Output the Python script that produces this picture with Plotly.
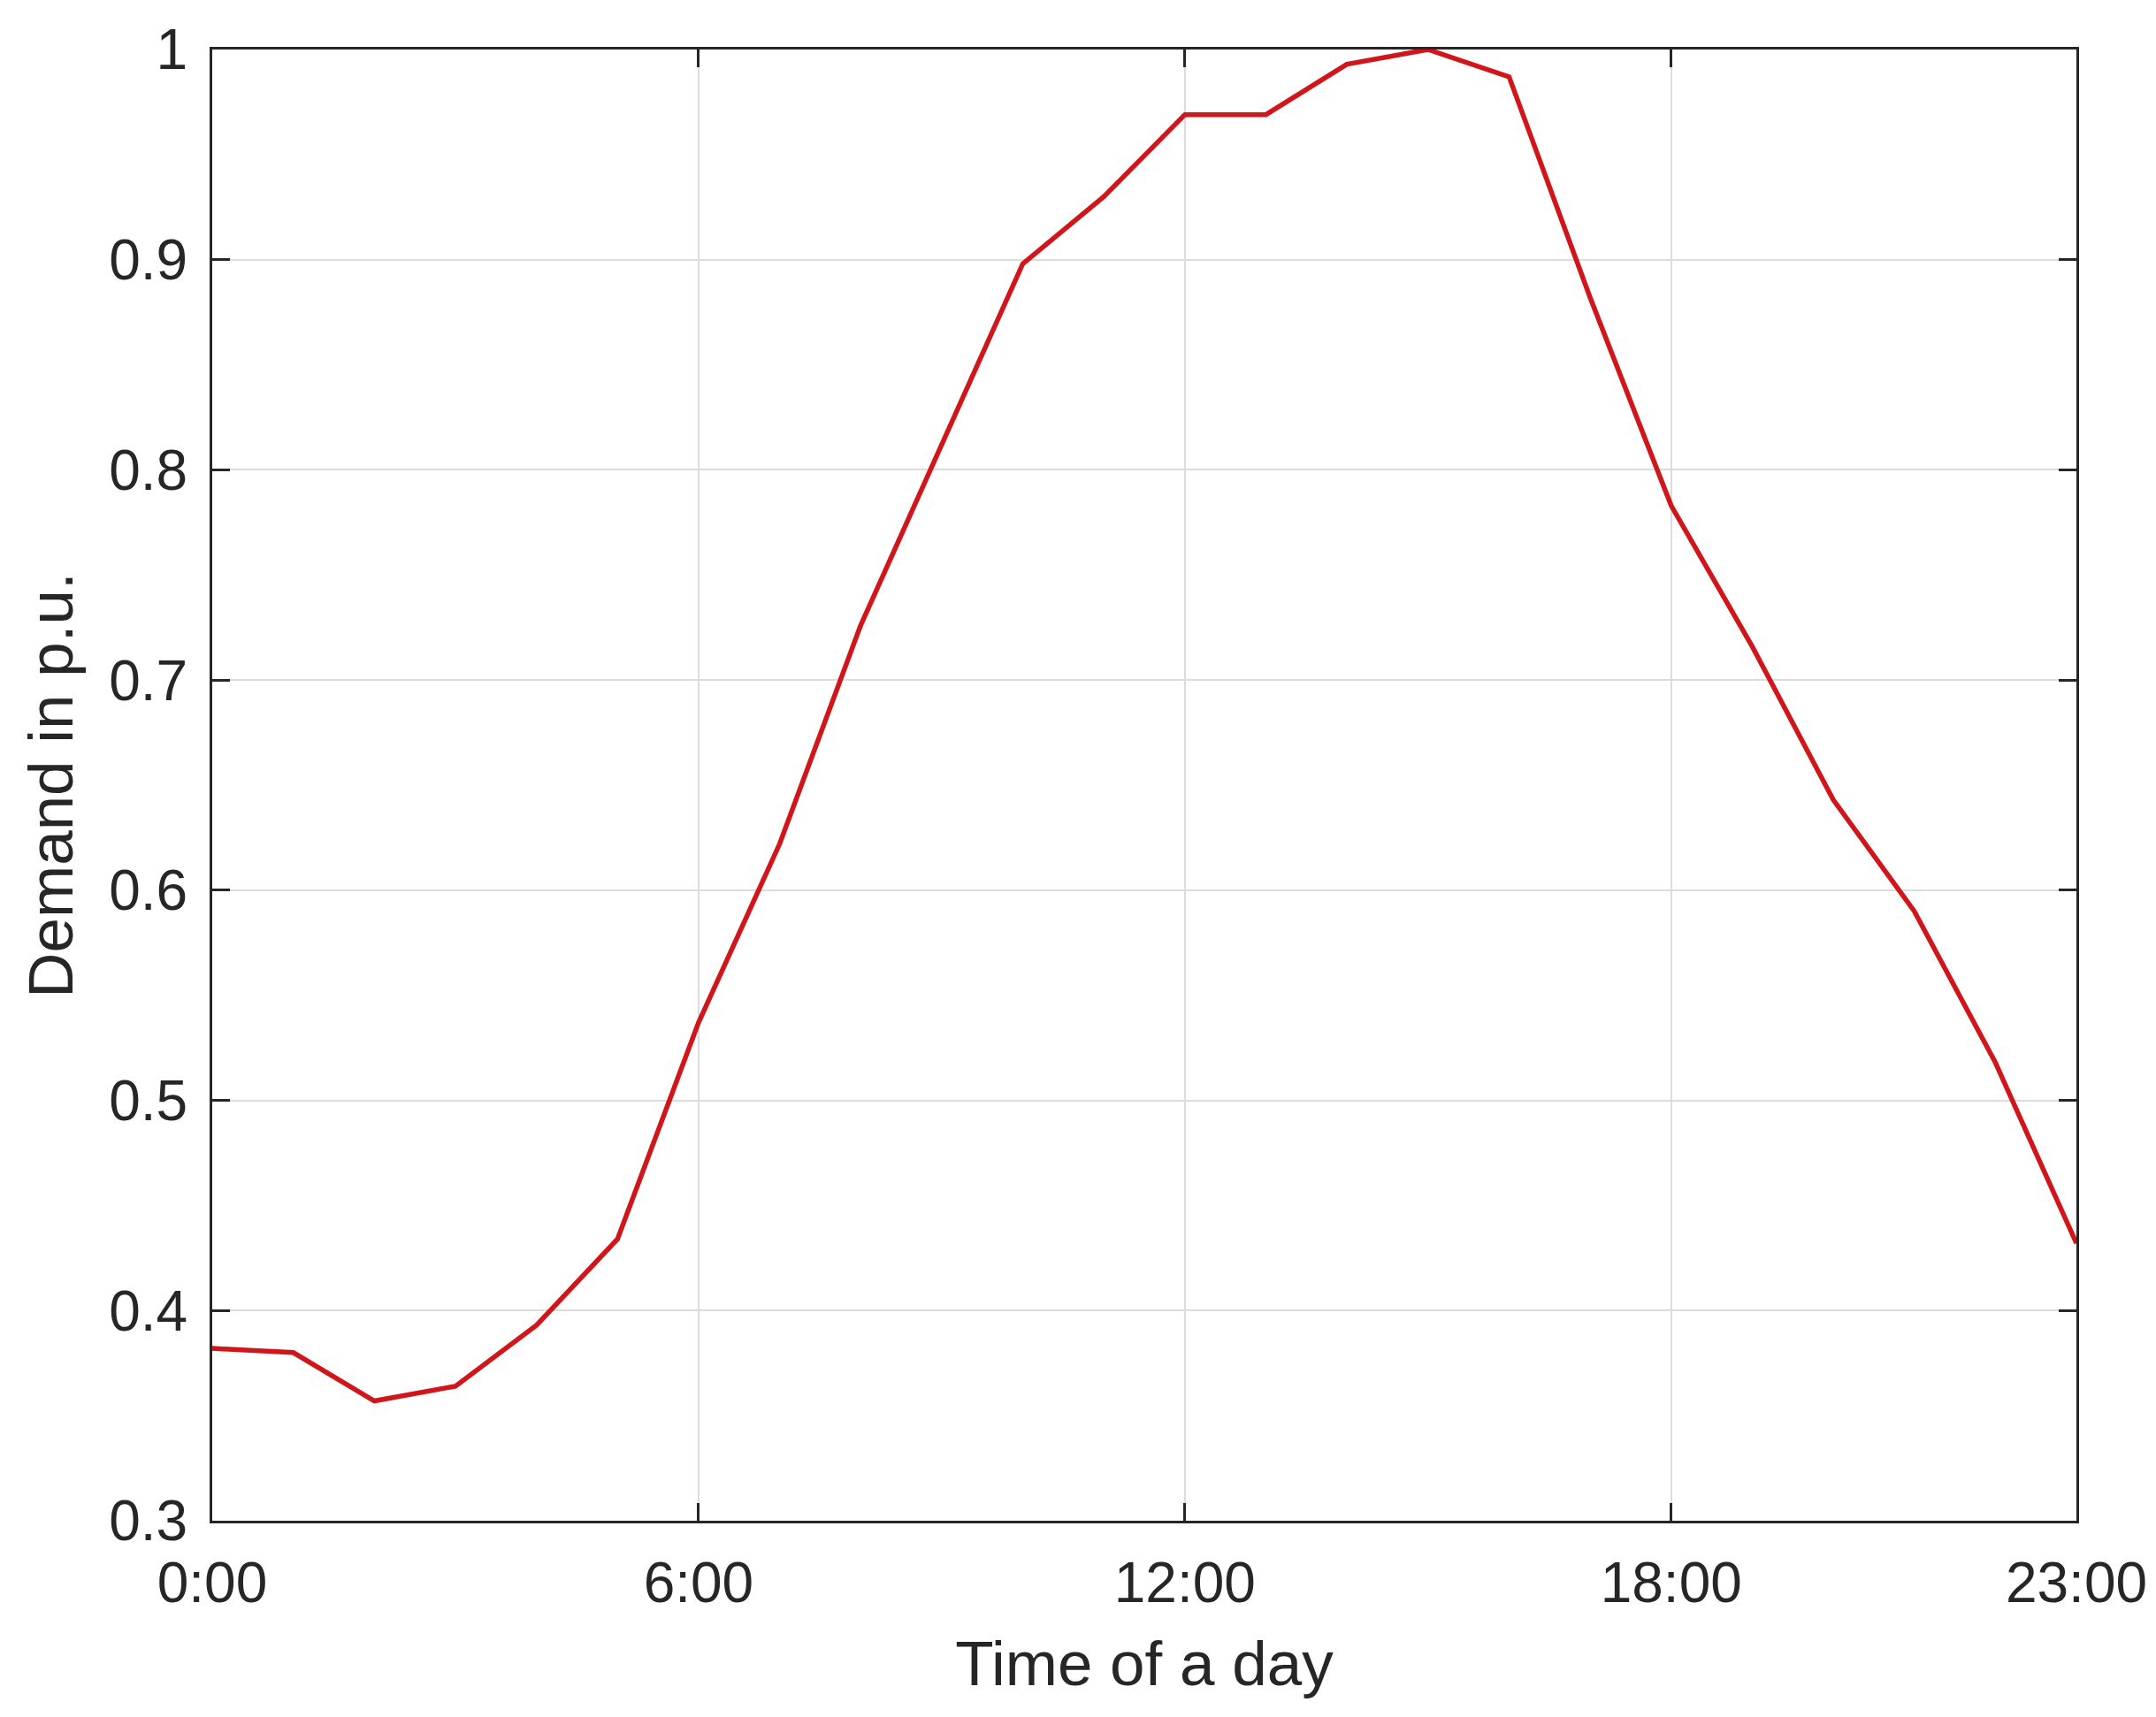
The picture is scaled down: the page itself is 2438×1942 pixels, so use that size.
import plotly.graph_objects as go

hours = list(range(24))
demand = [0.382, 0.380, 0.357, 0.364, 0.393, 0.434, 0.537, 0.622, 0.726, 0.812,
          0.898, 0.930, 0.969, 0.969, 0.993, 1.000, 0.987, 0.882, 0.783, 0.716,
          0.643, 0.590, 0.518, 0.432]

x_tick_vals = [0, 6, 12, 18, 23]
x_tick_text = ["0:00", "6:00", "12:00", "18:00", "23:00"]
y_tick_vals = [0.3, 0.4, 0.5, 0.6, 0.7, 0.8, 0.9, 1.0]
y_tick_text = ["0.3", "0.4", "0.5", "0.6", "0.7", "0.8", "0.9", "1"]

FONT = "Liberation Sans, Arial, sans-serif"

fig = go.Figure()
fig.add_trace(go.Scatter(x=hours, y=demand, mode="lines",
                         line=dict(color="#d0161a", width=5.5),
                         showlegend=False))

axis_common = dict(
    showline=True, linecolor="#262626", linewidth=3, mirror="allticks",
    ticks="inside", ticklen=20, tickwidth=2.5, tickcolor="#262626",
    showgrid=True, gridcolor="#dcdcdc", gridwidth=2,
    zeroline=False,
    tickfont=dict(family=FONT, size=64, color="#262626"),
)

fig.update_xaxes(range=[0, 23], tickvals=x_tick_vals, ticktext=x_tick_text,
                 title=dict(text="Time of a day", standoff=32,
                            font=dict(family=FONT, size=71, color="#262626")),
                 ticklabelstandoff=12,
                 **axis_common)
fig.update_yaxes(range=[0.3, 1.0], tickvals=y_tick_vals, ticktext=y_tick_text,
                 title=dict(text="Demand in p.u.", standoff=18,
                            font=dict(family=FONT, size=71, color="#262626")),
                 ticklabelstandoff=12,
                 **axis_common)

fig.update_layout(
    width=2438, height=1942,
    margin=dict(l=232, r=98, t=46, b=230),
    paper_bgcolor="white", plot_bgcolor="white",
)

fig.write_html("out.html")
